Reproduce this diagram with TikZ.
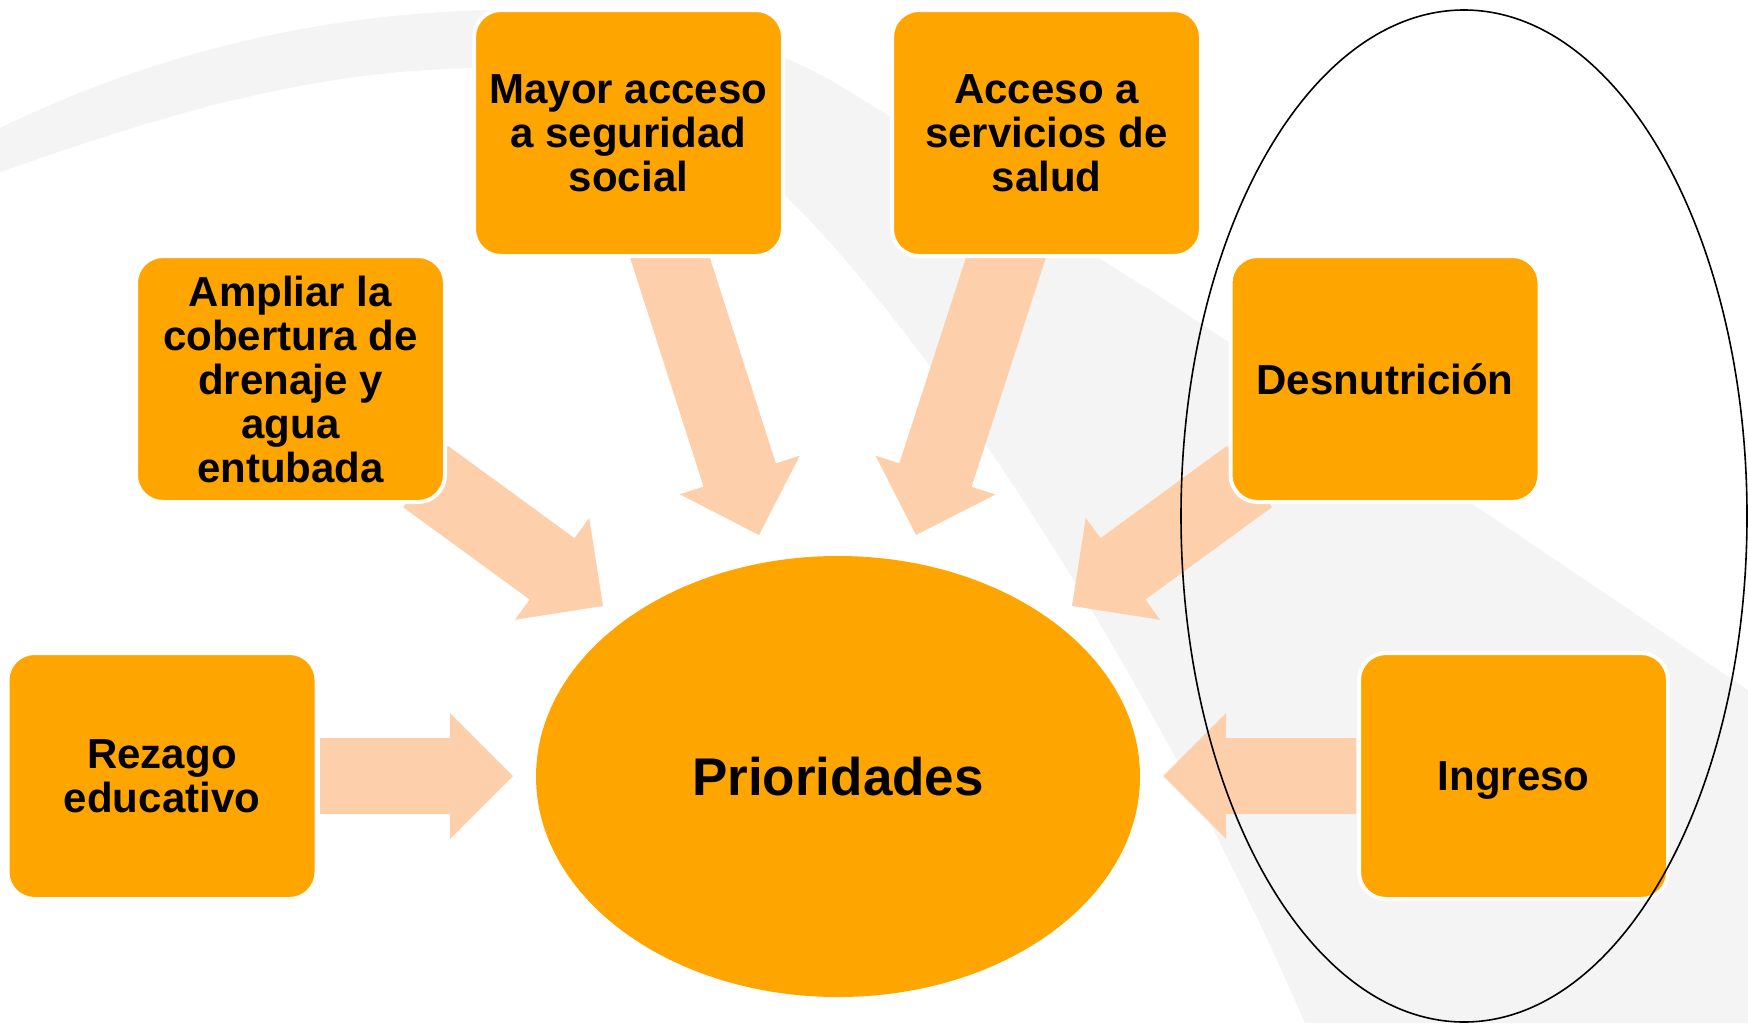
\documentclass[tikz,border=0pt]{standalone}
\usepackage{fontspec}
\setmainfont{Liberation Sans}
\usetikzlibrary{shapes.geometric,calc}
\definecolor{boxorange}{HTML}{FFA500}
\definecolor{peach}{HTML}{FDCFAA}
\definecolor{swooshgray}{HTML}{F4F4F4}
\newcommand\blockarrow[2]{%
  \fill[peach] let \p1=($(#2)-(#1)$), \n1={atan2(\y1,\x1)}, \n2={veclen(\x1,\y1)} in
    ($(#1)+(\n1+90:38pt)$) -- ($(#1)+(\n1:\n2-63pt)+(\n1+90:38pt)$) --
    ($(#1)+(\n1:\n2-63pt)+(\n1+90:63pt)$) -- (#2) --
    ($(#1)+(\n1:\n2-63pt)+(\n1-90:63pt)$) -- ($(#1)+(\n1:\n2-63pt)+(\n1-90:38pt)$) --
    ($(#1)+(\n1-90:38pt)$) -- cycle;}
\begin{document}
\begin{tikzpicture}[x=1pt,y=-1pt,
  box/.style={rectangle, rounded corners=27pt, fill=boxorange, draw=white, line width=4pt,
    minimum width=309pt, minimum height=246pt, inner sep=0pt, align=center,
    font=\fontsize{42}{44}\selectfont\bfseries},
  hub/.style={ellipse, fill=boxorange, minimum width=604pt, minimum height=441pt, inner sep=0pt,
    font=\fontsize{53}{56}\selectfont\bfseries},
  group/.style={ellipse, draw=black, line width=1.6pt, minimum width=566pt, minimum height=1012pt, inner sep=0pt}]
\useasboundingbox (0,0) rectangle (1748,1023);
\fill[white] (0,0) rectangle (1748,1023);
% background swoosh
\fill[swooshgray] (0,128) .. controls (150,55) and (320,12) .. (500,10)
  .. controls (650,10) and (760,40) .. (830,80)
  .. controls (950,150) and (1050,230) .. (1150,290) -- (1477,507) -- (1748,690) -- (1748,1023) -- (1305,1023)
  .. controls (1200,780) and (1000,420) .. (800,210)
  .. controls (700,110) and (600,70) .. (480,68)
  .. controls (300,70) and (150,120) .. (0,172) -- cycle;
% arrow end points
\coordinate (t1) at (425.5,476.5); \coordinate (h1) at (603,606);
\coordinate (t2) at (658.8,222.9); \coordinate (h2) at (759,535);
\coordinate (t3) at (1017.2,222.9);\coordinate (h3) at (916,535);
\coordinate (t4) at (1249.5,476.5);\coordinate (h4) at (1072,606);
\coordinate (t5) at (320,776);     \coordinate (h5) at (513,776);
\coordinate (t6) at (1356,776);    \coordinate (h6) at (1163,776);
\blockarrow{t1}{h1}
\blockarrow{t2}{h2}
\blockarrow{t3}{h3}
\blockarrow{t4}{h4}
\blockarrow{t5}{h5}
\blockarrow{t6}{h6}
% boxes
\node[box] (mayor) at (628.5,133) {Mayor acceso\\a seguridad\\social};
\node[box] (acceso) at (1046.5,133) {Acceso a\\servicios de\\salud};
\node[box] (ampliar) at (290.5,379) {Ampliar la\\cobertura de\\drenaje y\\agua\\entubada};
\node[box] (desnut) at (1385,379) {Desnutrición};
\node[box] (rezago) at (162,776) {Rezago\\educativo};
\node[box, text depth=0pt] (ingreso) at (1513.5,776) {Ingreso};
\node[hub] (prio) at (838,776.5) {Prioridades};
\node[group] (grupo) at (1464,516) {};
\end{tikzpicture}
\end{document}
